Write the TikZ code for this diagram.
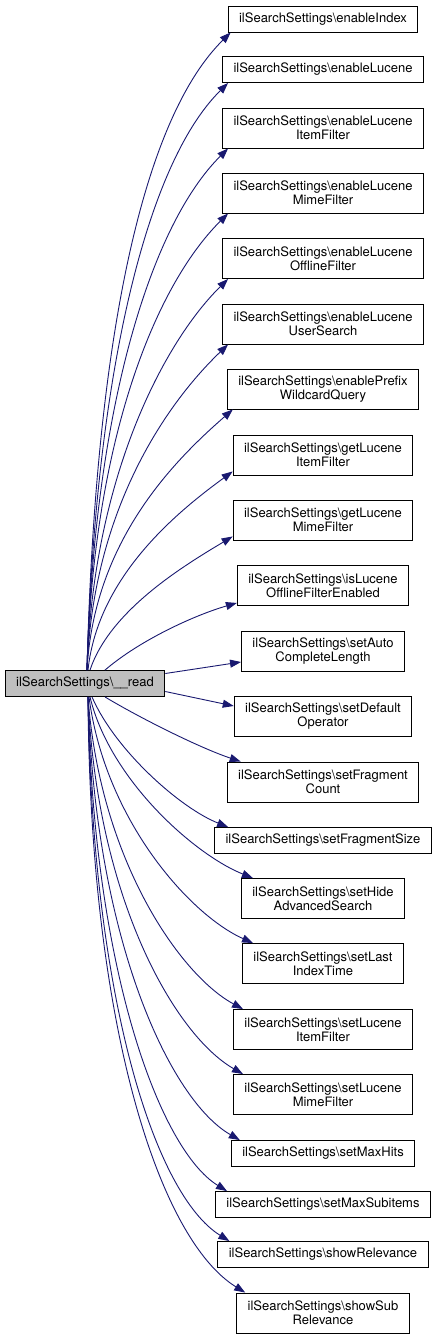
\documentclass[tikz,border=0pt]{standalone}
\usepackage{fontspec}
\setmainfont{TeX Gyre Heros}
\usetikzlibrary{arrows.meta}
\definecolor{edgeblue}{RGB}{25,25,112}
\definecolor{grey75}{RGB}{191,191,191}
\tikzset{
  fn/.style={draw=black, fill=white, line width=0.9pt, inner xsep=11pt, inner ysep=0pt,
    minimum height=26pt, align=center, font=\fontsize{13}{14}\selectfont},
  fn2/.style={fn, minimum height=40pt},
  call/.style={draw=edgeblue, line width=0.9pt, -{Triangle[length=11pt,width=8pt]}}
}

\begin{document}
\begin{tikzpicture}[x=1pt,y=-1pt]
\def\cx{323}
\useasboundingbox (0,0) rectangle (439,1339);
\node[fn, fill=grey75] (rd) at (85, 683.5) {ilSearchSettings\textbackslash\_\_read};

\node[fn]  (s1)  at (\cx, 19)     {ilSearchSettings\textbackslash enableIndex};
\node[fn]  (s2)  at (\cx, 69.5)   {ilSearchSettings\textbackslash enableLucene};
\node[fn2] (s3)  at (\cx, 128)    {ilSearchSettings\textbackslash enableLucene\\ItemFilter};
\node[fn2] (s4)  at (\cx, 193)    {ilSearchSettings\textbackslash enableLucene\\MimeFilter};
\node[fn2] (s5)  at (\cx, 258.5)  {ilSearchSettings\textbackslash enableLucene\\OfflineFilter};
\node[fn2] (s6)  at (\cx, 324)    {ilSearchSettings\textbackslash enableLucene\\UserSearch};
\node[fn2] (s7)  at (\cx, 389)    {ilSearchSettings\textbackslash enablePrefix\\WildcardQuery};
\node[fn2] (s8)  at (\cx, 455)    {ilSearchSettings\textbackslash getLucene\\ItemFilter};
\node[fn2] (s9)  at (\cx, 520)    {ilSearchSettings\textbackslash getLucene\\MimeFilter};
\node[fn2] (s10) at (\cx, 585.5)  {ilSearchSettings\textbackslash isLucene\\OfflineFilterEnabled};
\node[fn2] (s11) at (\cx, 651)    {ilSearchSettings\textbackslash setAuto\\CompleteLength};
\node[fn2] (s12) at (\cx, 716)    {ilSearchSettings\textbackslash setDefault\\Operator};
\node[fn2] (s13) at (\cx, 782)    {ilSearchSettings\textbackslash setFragment\\Count};
\node[fn]  (s14) at (\cx, 840.5)  {ilSearchSettings\textbackslash setFragmentSize};
\node[fn2] (s15) at (\cx, 898.5)  {ilSearchSettings\textbackslash setHide\\AdvancedSearch};
\node[fn2] (s16) at (\cx, 963.5)  {ilSearchSettings\textbackslash setLast\\IndexTime};
\node[fn2] (s17) at (\cx, 1029.5) {ilSearchSettings\textbackslash setLucene\\ItemFilter};
\node[fn2] (s18) at (\cx, 1094.5) {ilSearchSettings\textbackslash setLucene\\MimeFilter};
\node[fn]  (s19) at (\cx, 1153.5) {ilSearchSettings\textbackslash setMaxHits};
\node[fn]  (s20) at (\cx, 1204.5) {ilSearchSettings\textbackslash setMaxSubitems};
\node[fn]  (s21) at (\cx, 1254.5) {ilSearchSettings\textbackslash showRelevance};
\node[fn2] (s22) at (\cx, 1313)   {ilSearchSettings\textbackslash showSub\\Relevance};

% calls going up
\draw[call] ([xshift=2pt]rd.north) .. controls (95,350) and (140,122) .. ([xshift=3pt]s1.south west);
\draw[call] ([xshift=2pt]rd.north) .. controls (95,380) and (145,165) .. ([xshift=6pt]s2.south west);
\draw[call] ([xshift=2pt]rd.north) .. controls (94,410) and (150,226) .. ([xshift=6pt]s3.south west);
\draw[call] ([xshift=2pt]rd.north) .. controls (93,440) and (155,286) .. ([xshift=6pt]s4.south west);
\draw[call] ([xshift=2pt]rd.north) .. controls (93,475) and (165,341) .. ([xshift=6pt]s5.south west);
\draw[call] ([xshift=2pt]rd.north) .. controls (93,505) and (170,400) .. ([xshift=6pt]s6.south west);
\draw[call] ([xshift=2pt]rd.north) .. controls (94,540) and (175,460) .. ([xshift=6pt]s7.south west);
\draw[call] ([xshift=3pt]rd.north) .. controls (98,575) and (180,510) .. ([yshift=4pt]s8.south west);
\draw[call] ([xshift=5pt]rd.north) .. controls (110,610) and (185,565) .. ([yshift=4pt]s9.south west);
\draw[call] ([xshift=20pt]rd.north) .. controls (140,640) and (195,615) .. ([yshift=3pt]s10.south west);
% straight ones
\draw[call] ([yshift=10pt]rd.east) -- ([yshift=-11pt]s11.west);
\draw[call] ([yshift=-8pt]rd.east) -- ([yshift=10pt]s12.west);
% calls going down
\draw[call] ([xshift=20pt]rd.south) .. controls (140,718) and (200,748) .. ([xshift=14pt]s13.north west);
\draw[call] ([xshift=7pt]rd.south) .. controls (115,750) and (180,808) .. ([xshift=14pt]s14.north west);
\draw[call] ([xshift=5pt]rd.south) .. controls (110,780) and (195,855) .. ([xshift=12pt]s15.north west);
\draw[call] ([xshift=4pt]rd.south) .. controls (105,820) and (190,915) .. ([xshift=11pt]s16.north west);
\draw[call] ([xshift=3pt]rd.south) .. controls (100,860) and (180,975) .. ([xshift=10pt]s17.north west);
\draw[call] ([xshift=3pt]rd.south) .. controls (97,900) and (175,1035) .. ([xshift=10pt]s18.north west);
\draw[call] ([xshift=3pt]rd.south) .. controls (95,940) and (170,1100) .. ([xshift=9pt]s19.north west);
\draw[call] ([xshift=3pt]rd.south) .. controls (93,970) and (160,1150) .. ([xshift=12pt]s20.north west);
\draw[call] ([xshift=3pt]rd.south) .. controls (92,1000) and (155,1195) .. ([xshift=12pt]s21.north west);
\draw[call] ([xshift=3pt]rd.south) .. controls (90,1030) and (160,1240) .. ([xshift=9pt]s22.north west);
\end{tikzpicture}
\end{document}
